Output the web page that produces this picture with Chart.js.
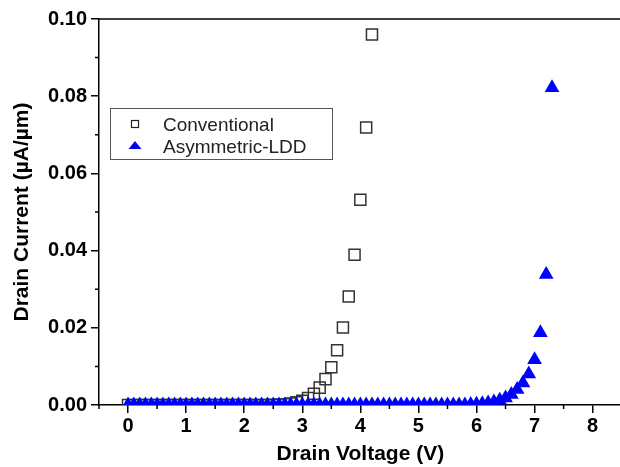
<!DOCTYPE html>
<html>
<head>
<meta charset="utf-8">
<script src="https://cdn.jsdelivr.net/npm/chart.js@4.4.1/dist/chart.umd.min.js"></script>
<style>
  html, body { margin: 0; padding: 0; background: #fff; overflow: hidden; }
  #wrap { width: 620px; height: 467px; overflow: hidden; }
</style>
</head>
<body>
<div id="wrap"><canvas id="chart" width="631" height="467"></canvas></div>
<script>
// ===== DATA =====
const convV = [0.0, 0.1, 0.2, 0.3, 0.4, 0.5, 0.6, 0.7, 0.8, 0.9,
               1.0, 1.1, 1.2, 1.3, 1.4, 1.5, 1.6, 1.7, 1.8, 1.9,
               2.0, 2.1, 2.2, 2.3, 2.4, 2.5, 2.6, 2.7, 2.8, 2.9,
               3.0, 3.1, 3.2, 3.3, 3.4, 3.5, 3.6, 3.7, 3.8, 3.9,
               4.0, 4.1, 4.2];
const convI = [0, 0, 0, 0, 0, 0, 0, 0, 0, 0,
               0, 0, 0, 0, 0, 0, 0, 0, 0, 0,
               0, 0, 0, 0, 0, 0.00005, 0.0001, 0.0002, 0.0004, 0.0007,
               0.0011, 0.0018, 0.0029, 0.0045, 0.0067, 0.0098, 0.0142, 0.0201, 0.0281, 0.0389,
               0.0532, 0.0719, 0.0960];

const lddV = [0.0, 0.1, 0.2, 0.3, 0.4, 0.5, 0.6, 0.7, 0.8, 0.9,
              1.0, 1.1, 1.2, 1.3, 1.4, 1.5, 1.6, 1.7, 1.8, 1.9,
              2.0, 2.1, 2.2, 2.3, 2.4, 2.5, 2.6, 2.7, 2.8, 2.9,
              3.0, 3.1, 3.2, 3.3, 3.4, 3.5, 3.6, 3.7, 3.8, 3.9,
              4.0, 4.1, 4.2, 4.3, 4.4, 4.5, 4.6, 4.7, 4.8, 4.9,
              5.0, 5.1, 5.2, 5.3, 5.4, 5.5, 5.6, 5.7, 5.8, 5.9,
              6.0, 6.1, 6.2, 6.3, 6.4, 6.5, 6.6, 6.7, 6.8, 6.9,
              7.0, 7.1, 7.2, 7.3];
const lddI = [0, 0, 0, 0, 0, 0, 0, 0, 0, 0,
              0, 0, 0, 0, 0, 0, 0, 0, 0, 0,
              0, 0, 0, 0, 0, 0, 0, 0, 0, 0,
              0, 0, 0, 0, 0, 0, 0, 0, 0, 0,
              0, 0, 0, 0, 0, 0, 0, 0, 0, 0,
              0, 0, 0, 0, 0, 0, 0, 0, 0, 0.0001,
              0.0002, 0.0003, 0.0005, 0.0008, 0.0012, 0.0018, 0.0027, 0.0040, 0.0057, 0.0080,
              0.0117, 0.0187, 0.0338, 0.0822];

const xTicks = [0, 1, 2, 3, 4, 5, 6, 7, 8];
const xMinor = [-0.5, 0.5, 1.5, 2.5, 3.5, 4.5, 5.5, 6.5, 7.5];
const yTicks = [0, 0.02, 0.04, 0.06, 0.08, 0.10];
const yMinor = [0.01, 0.03, 0.05, 0.07, 0.09];

const seriesNames = ['Conventional', 'Asymmetric-LDD'];

const FONT = "'Liberation Sans', Arial, sans-serif";

// ===== PLUGINS =====
// frame top line, minor ticks and the boxed legend
const framePlugin = {
    id: 'frame',
    afterDraw(chart) {
        const { ctx, chartArea: a, scales: { x, y } } = chart;
        ctx.save();
        ctx.strokeStyle = '#000';
        ctx.lineWidth = 1.5;
        ctx.beginPath();
        ctx.moveTo(a.left, a.top);
        ctx.lineTo(a.right, a.top);
        // minor ticks
        xMinor.forEach(v => {
            const px = x.getPixelForValue(v);
            ctx.moveTo(px, a.bottom);
            ctx.lineTo(px, a.bottom + 4);
        });
        yMinor.forEach(v => {
            const py = y.getPixelForValue(v);
            ctx.moveTo(a.left, py);
            ctx.lineTo(a.left - 4, py);
        });
        ctx.stroke();

        // legend box
        ctx.strokeStyle = '#555';
        ctx.lineWidth = 1;
        ctx.fillStyle = '#fff';
        ctx.fillRect(110.5, 108.5, 222, 51);
        ctx.strokeRect(110.5, 108.5, 222, 51);

        ctx.strokeStyle = '#222';
        ctx.lineWidth = 1.2;
        ctx.strokeRect(131.5, 120.5, 7, 7);

        ctx.fillStyle = '#0000ff';
        ctx.beginPath();
        ctx.moveTo(135, 141);
        ctx.lineTo(141.5, 149);
        ctx.lineTo(128.5, 149);
        ctx.closePath();
        ctx.fill();

        ctx.fillStyle = '#222';
        ctx.font = `19px ${FONT}`;
        ctx.textBaseline = 'alphabetic';
        ctx.fillText(seriesNames[0], 163, 131);
        ctx.fillText(seriesNames[1], 163, 153);
        ctx.restore();
    }
};

// ===== CHART =====
const ctx = document.getElementById('chart').getContext('2d');
new Chart(ctx, {
    type: 'scatter',
    data: {
        datasets: [
            {
                label: seriesNames[0],
                data: convV.map((v, i) => ({ x: v, y: convI[i] })),
                pointStyle: 'rect',
                pointRadius: 7.8,
                pointBorderWidth: 1.5,
                borderColor: '#333',
                backgroundColor: 'rgba(0,0,0,0)',
                order: 1
            },
            {
                label: seriesNames[1],
                data: lddV.map((v, i) => ({ x: v, y: lddI[i] })),
                pointStyle: 'triangle',
                pointRadius: 8.5,
                pointBorderWidth: 0,
                borderColor: '#0000ff',
                backgroundColor: '#0000ff',
                order: 0
            }
        ]
    },
    options: {
        responsive: false,
        animation: false,
        devicePixelRatio: 1,
        layout: { padding: { top: 19, right: 2, left: 0, bottom: 0 } },
        plugins: {
            legend: { display: false },
            tooltip: { enabled: false }
        },
        scales: {
            x: {
                type: 'linear',
                min: -0.5,
                max: 8.5,
                afterBuildTicks: s => { s.ticks = xTicks.map(v => ({ value: v })); },
                afterFit: s => { s.height = 62; },
                border: { display: true, color: '#000', width: 1.5 },
                grid: { drawOnChartArea: false, drawTicks: true, tickLength: 8, color: '#000', lineWidth: 1.5 },
                ticks: {
                    color: '#000',
                    padding: 1,
                    maxRotation: 0,
                    font: { family: FONT, size: 20, weight: 'bold' },
                    callback: v => String(v)
                },
                title: {
                    display: true,
                    text: 'Drain Voltage (V)',
                    color: '#000',
                    padding: { top: 0, bottom: 0 },
                    font: { family: FONT, size: 21, weight: 'bold' }
                }
            },
            y: {
                type: 'linear',
                min: 0,
                max: 0.10,
                afterBuildTicks: s => { s.ticks = yTicks.map(v => ({ value: v })); },
                afterFit: s => { s.width = 99; },
                border: { display: true, color: '#000', width: 1.5 },
                grid: { drawOnChartArea: false, drawTicks: true, tickLength: 8, color: '#000', lineWidth: 1.5 },
                ticks: {
                    color: '#000',
                    padding: 4,
                    font: { family: FONT, size: 20, weight: 'bold' },
                    callback: v => v.toFixed(2)
                },
                title: {
                    display: true,
                    text: 'Drain Current (\u00b5A/\u00b5m)',
                    color: '#000',
                    padding: { top: 10, bottom: 0 },
                    font: { family: FONT, size: 21, weight: 'bold' }
                }
            }
        }
    },
    plugins: [framePlugin]
});
</script>
</body>
</html>
